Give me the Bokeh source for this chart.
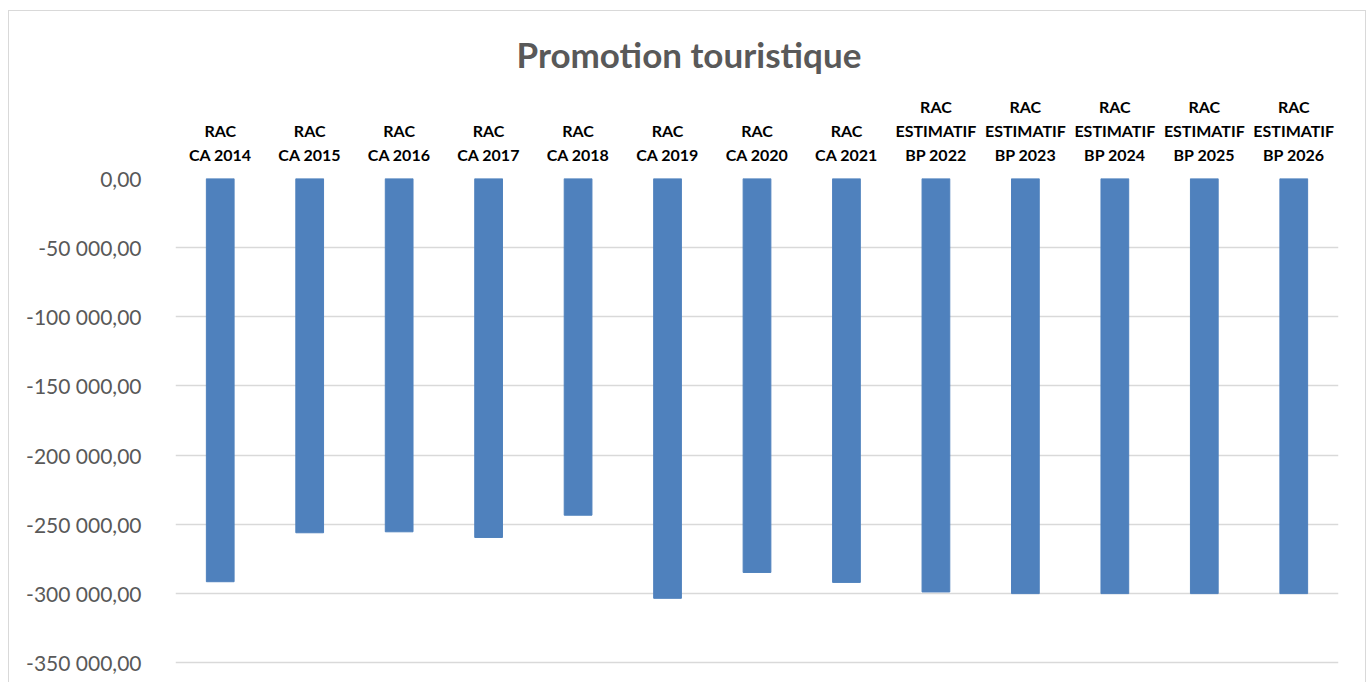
from bokeh.plotting import figure
from bokeh.models import FactorRange, Range1d, FixedTicker, CustomJSTickFormatter, ColumnDataSource
from bokeh.embed import file_html
from bokeh.resources import INLINE

categories = [
    "RAC\nCA 2014", "RAC\nCA 2015", "RAC\nCA 2016", "RAC\nCA 2017", "RAC\nCA 2018",
    "RAC\nCA 2019", "RAC\nCA 2020", "RAC\nCA 2021",
    "RAC\nESTIMATIF\nBP 2022", "RAC\nESTIMATIF\nBP 2023", "RAC\nESTIMATIF\nBP 2024",
    "RAC\nESTIMATIF\nBP 2025", "RAC\nESTIMATIF\nBP 2026",
]
values = [-291600, -256200, -255500, -259600, -243500, -303600, -284900, -292100,
          -299000, -300200, -300200, -300200, -300200]
y_ticks = [0, -50000, -100000, -150000, -200000, -250000, -300000, -350000]

source = ColumnDataSource(dict(cat=categories, val=values, zero=[0] * len(values)))

p = figure(
    width=1358, height=672,
    x_range=FactorRange(*categories),
    y_range=Range1d(-365200, 0),
    x_axis_location="above",
    output_backend="svg", toolbar_location=None,
    title="Promotion touristique",
    min_border_left=166, min_border_right=29, min_border_top=167, min_border_bottom=0,
)
p.styles = {"border": "1px solid #d9d9d9", "border-bottom": "none",
            "margin-left": "8px", "margin-top": "10px"}

p.vbar(x="cat", top="zero", bottom="val", width=0.31, source=source,
       fill_color="#4f81bd", line_color="#4f81bd")

p.title.align = "left"
p.title.offset = 341
p.title.text_font = "Lato"
p.title.text_font_style = "bold"
p.title.text_font_size = "35px"
p.title.text_color = "#595959"
p.title.standoff = 37

p.outline_line_color = None
p.background_fill_color = "white"
p.border_fill_color = "white"

p.xgrid.grid_line_color = None
p.ygrid.grid_line_color = "#d9d9d9"
p.ygrid.grid_line_width = 1.5

xa = p.xaxis[0]
xa.axis_line_color = None
xa.major_tick_line_color = None
xa.minor_tick_line_color = None
xa.major_tick_out = 0
xa.major_label_text_font = "Lato"
xa.major_label_text_font_style = "bold"
xa.major_label_text_font_size = "16px"
xa.major_label_text_color = "#000000"
xa.major_label_text_line_height = 1.25
xa.major_label_standoff = 15
xa.major_label_orientation = "horizontal"

ya = p.yaxis[0]
ya.axis_line_color = None
ya.major_tick_line_color = None
ya.minor_tick_line_color = None
ya.major_tick_out = 0
ya.ticker = FixedTicker(ticks=y_ticks)
ya.major_label_text_font = "Lato"
ya.major_label_text_font_size = "21px"
ya.major_label_text_color = "#595959"
ya.major_label_standoff = 34
ya.formatter = CustomJSTickFormatter(code="""
    const s = Math.abs(tick).toFixed(2).split('.');
    const ip = s[0].replace(/\\B(?=(\\d{3})+(?!\\d))/g, ' ');
    return (tick < 0 ? '-' : '') + ip + ',' + s[1];
""")

open("out.html", "w").write(file_html(p, INLINE))
